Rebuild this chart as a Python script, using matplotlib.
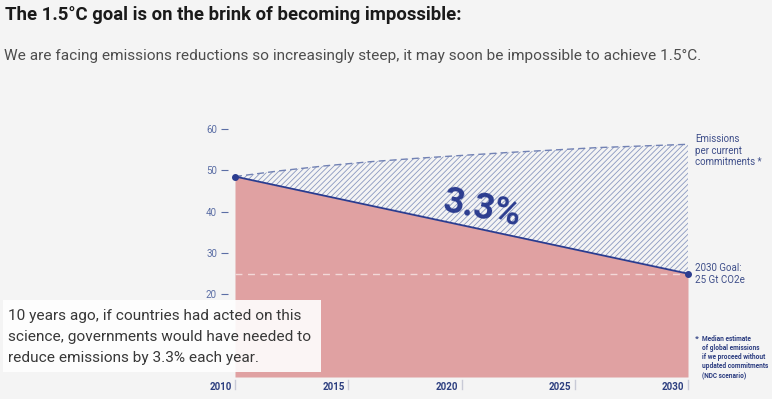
import matplotlib
matplotlib.use('Agg')
from matplotlib import pyplot as plt
from matplotlib import transforms as mtrans

# Данные графика
years = [2010, 2030]
goal_path = [48.5, 25.0]  # путь сокращения на 3.3% в год

ndc_years = [2010, 2012, 2014, 2016, 2018, 2020, 2022, 2024, 2026, 2028, 2030]
ndc_values = [48.5, 49.9, 51.1, 52.1, 52.9, 53.6, 54.3, 54.9, 55.5, 55.9, 56.3]

goal_2030 = 25
tick_years = [2010, 2015, 2020, 2025, 2030]
y_ticks = [20, 30, 40, 50, 60]

title = 'The 1.5°C goal is on the brink of becoming impossible:'
subtitle = ('We are facing emissions reductions so increasingly steep, '
            'it may soon be impossible to achieve 1.5°C.')
box_text = ('10 years ago, if countries had acted on this\n'
            'science, governments would have needed to\n'
            'reduce emissions by 3.3% each year.')

# Цвета
bg = '#f4f4f4'
navy = '#2b3c8f'
pink = '#e0a1a2'
hatch_col = '#8a98c0'
label_col = '#5b6ea5'

plt.rcParams['font.family'] = ['Roboto', 'DejaVu Sans']
plt.rcParams['hatch.linewidth'] = 0.6

fig = plt.figure(figsize=(7.72, 3.99), dpi=100, facecolor=bg)
ax = fig.add_axes([235 / 772, 1 - 377 / 399, 453 / 772, 248 / 399])
ax.set_facecolor(bg)
ax.set_xlim(2010, 2030)
ax.set_ylim(0, 60)

# Розовая заливка под линией цели
ax.fill_between(years, 0, goal_path, color=pink, lw=0, zorder=1)

# Штриховка между линией цели и текущими обязательствами
goal_on_ndc = [goal_path[0] + (goal_path[1] - goal_path[0]) * (y - 2010) / 20 for y in ndc_years]
ax.fill_between(ndc_years, goal_on_ndc, ndc_values, facecolor='none',
                edgecolor=hatch_col, hatch='//////', lw=0, zorder=1)

# Пунктир текущих обязательств
ax.plot(ndc_years, ndc_values, color='#7282b4', lw=1, ls=(0, (5, 3)), zorder=3)

# Горизонтальная линия цели 2030
ax.plot(years, [goal_2030, goal_2030], color='#f3d8d8', lw=1, ls=(0, (5, 4)), zorder=2)

# Линия цели с точками
ax.plot(years, goal_path, color=navy, lw=1.3, zorder=4)
ax.plot(years, goal_path, 'o', color=navy, ms=4, zorder=5, clip_on=False)

ax.text(2020.9, 40.7, '3.3%', color=navy, fontsize=26, fontweight='bold',
        rotation=-11, ha='center', va='center', zorder=6)

# Оси
for s in ax.spines.values():
    s.set_visible(False)
ax.spines['left'].set_position(('outward', 5))
ax.set_yticks(y_ticks)
ax.tick_params(axis='y', length=5, width=0.8, color=label_col, labelcolor=label_col,
               labelsize=7, pad=3, direction='out')
ax.set_xticks([])

trans = mtrans.blended_transform_factory(ax.transData, ax.transAxes)
for yr in tick_years:
    ax.plot([yr, yr], [-0.012, -0.05], transform=trans, color='#c8cad6', lw=1, clip_on=False)
    ax.text(yr - 0.15, -0.04, str(yr), transform=trans, ha='right', va='center',
            fontsize=7, fontweight='bold', color='#2c3e7f')

# Подписи справа
ax.text(1.0155, 0.98, 'Emissions\nper current\ncommitments *', transform=ax.transAxes,
        ha='left', va='top', fontsize=7, color='#3f4f8a', linespacing=1.2)
ax.text(1.0155, 0.46, '2030 Goal:\n25 Gt CO2e', transform=ax.transAxes,
        ha='left', va='top', fontsize=7, color='#3f4f8a', linespacing=1.2)
ax.text(1.0155, 0.17, '*', transform=ax.transAxes, ha='left', va='top',
        fontsize=6, fontweight='bold', color='#2b3c80')
ax.text(1.031, 0.168, 'Median estimate\nof global emissions\nif we proceed without\n'
        'updated commitments\n(NDC scenario)', transform=ax.transAxes,
        ha='left', va='top', fontsize=4.7, fontweight='bold', color='#2b3c80',
        linespacing=1.15)

# Заголовки
fig.text(5 / 772, 1 - 15 / 399, title, fontsize=13.3, fontweight='bold',
         color='#1a1a1a', ha='left', va='center')
fig.text(4 / 772, 1 - 56 / 399, subtitle, fontsize=11.1,
         color='#4d4d4d', ha='left', va='center')

# Пояснение в белой рамке
fig.patches.append(plt.Rectangle((3 / 772, 1 - 372 / 399), 318 / 772, 72 / 399,
                                 transform=fig.transFigure, facecolor='white',
                                 alpha=0.9, edgecolor='none', zorder=10))
fig.text(8 / 772, 1 - 337 / 399, box_text, fontsize=11.1,
         color='#383838', ha='left', va='center', linespacing=1.6, zorder=11)

fig.savefig('out.png', dpi=100, facecolor=bg)
